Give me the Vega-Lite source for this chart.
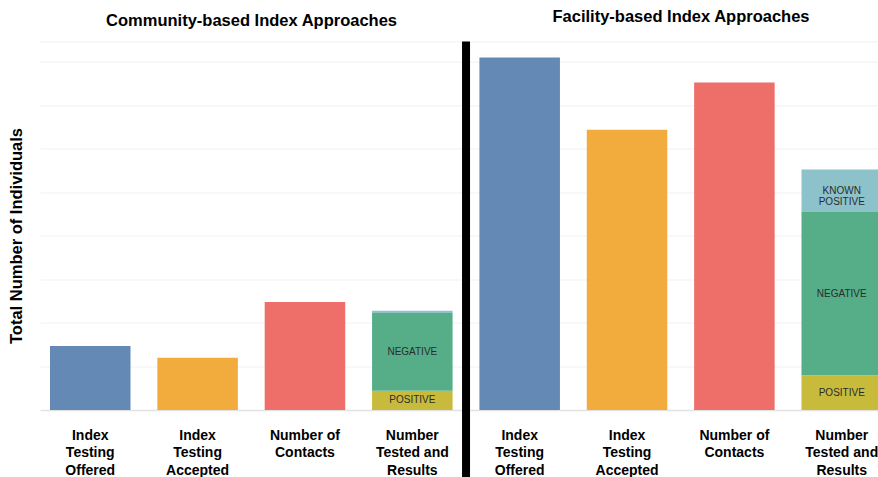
{
  "$schema": "https://vega.github.io/schema/vega-lite/v6.json",
  "autosize": {"type": "none"},
  "width": 838,
  "height": 368.5,
  "padding": {"left": 40, "top": 41.5, "right": 0, "bottom": 67},
  "background": "white",
  "config": {
    "view": {"stroke": null},
    "font": "Liberation Sans"
  },
  "data": {
    "values": [
      {"cat": "C|Index|Testing|Offered", "seg": "Offered", "ord": 1, "value": 147, "label": ""},
      {"cat": "C|Index|Testing|Accepted", "seg": "Accepted", "ord": 1, "value": 120, "label": ""},
      {"cat": "C|Number of|Contacts", "seg": "Contacts", "ord": 1, "value": 248, "label": ""},
      {"cat": "C|Number|Tested and|Results", "seg": "Positive", "ord": 1, "value": 44, "label": "POSITIVE"},
      {"cat": "C|Number|Tested and|Results", "seg": "Negative", "ord": 2, "value": 179, "label": "NEGATIVE"},
      {"cat": "C|Number|Tested and|Results", "seg": "Known Positive", "ord": 3, "value": 5, "label": ""},
      {"cat": "F|Index|Testing|Offered", "seg": "Offered", "ord": 1, "value": 810, "label": ""},
      {"cat": "F|Index|Testing|Accepted", "seg": "Accepted", "ord": 1, "value": 644, "label": ""},
      {"cat": "F|Number of|Contacts", "seg": "Contacts", "ord": 1, "value": 753, "label": ""},
      {"cat": "F|Number|Tested and|Results", "seg": "Positive", "ord": 1, "value": 80, "label": "POSITIVE"},
      {"cat": "F|Number|Tested and|Results", "seg": "Negative", "ord": 2, "value": 375, "label": "NEGATIVE"},
      {"cat": "F|Number|Tested and|Results", "seg": "Known Positive", "ord": 3, "value": 98, "label": "KNOWN|POSITIVE"}
    ]
  },
  "encoding": {
    "x": {
      "field": "cat",
      "type": "nominal",
      "sort": [
        "C|Index|Testing|Offered", "C|Index|Testing|Accepted", "C|Number of|Contacts", "C|Number|Tested and|Results",
        "F|Index|Testing|Offered", "F|Index|Testing|Accepted", "F|Number of|Contacts", "F|Number|Tested and|Results"
      ],
      "scale": {"range": [0, 852], "paddingInner": 0.25, "paddingOuter": 0.093},
      "axis": {
        "title": null,
        "labelExpr": "slice(split(datum.value, '|'), 1)",
        "labelAngle": 0,
        "labelFont": "Liberation Sans",
        "labelFontWeight": "bold",
        "labelFontSize": 14,
        "labelColor": "#000000",
        "labelLineHeight": 17.5,
        "labelBaseline": "top",
        "labelPadding": 18,
        "ticks": false,
        "domain": true,
        "domainColor": "#e2e2e2",
        "domainWidth": 1.5,
        "grid": false
      }
    }
  },
  "layer": [
    {
      "transform": [
        {"stack": "value", "groupby": ["cat"], "sort": [{"field": "ord"}], "as": ["v0", "v1"]}
      ],
      "mark": {"type": "bar"},
      "encoding": {
        "y": {
          "field": "v1",
          "type": "quantitative",
          "scale": {"domain": [0, 847], "nice": false, "zero": true},
          "axis": {
            "title": "Total Number of Individuals",
            "titleFont": "Liberation Sans",
            "titleFontSize": 16.5,
            "titleFontWeight": "bold",
            "titleColor": "#000000",
            "titlePadding": 16,
            "titleY": 194,
            "labels": false,
            "ticks": false,
            "domain": false,
            "grid": true,
            "gridColor": "#f1f1f1",
            "gridWidth": 1,
            "values": [100, 200, 300, 400, 500, 600, 700, 800, 847]
          }
        },
        "y2": {"field": "v0"},
        "color": {
          "field": "seg",
          "type": "nominal",
          "legend": null,
          "scale": {
            "domain": ["Offered", "Accepted", "Contacts", "Positive", "Negative", "Known Positive"],
            "range": ["#6389b4", "#f2ab3d", "#ee6e69", "#c8bb3c", "#55ae88", "#8ec2cb"]
          }
        }
      }
    },
    {
      "transform": [
        {"stack": "value", "groupby": ["cat"], "sort": [{"field": "ord"}], "as": ["v0", "v1"]},
        {"calculate": "(datum.v0 + datum.v1) / 2", "as": "mid"},
        {"filter": "datum.label != ''"}
      ],
      "mark": {"type": "text", "fontSize": 10, "fill": "#2b2b2b", "lineBreak": "|", "lineHeight": 11, "font": "Liberation Sans"},
      "encoding": {
        "y": {"field": "mid", "type": "quantitative"},
        "text": {"field": "label"}
      }
    },
    {
      "data": {"values": [{}]},
      "mark": {"type": "rule", "stroke": "#000000", "strokeWidth": 8},
      "encoding": {
        "x": {"datum": "C|Number|Tested and|Results", "bandPosition": 1.167},
        "y": {"datum": 847},
        "y2": {"datum": -154}
      }
    },
    {
      "data": {"values": [{}]},
      "mark": {"type": "text", "fontSize": 16.5, "fontWeight": "bold", "fill": "#000000", "font": "Liberation Sans", "baseline": "middle"},
      "encoding": {
        "x": {"datum": "C|Index|Testing|Accepted", "bandPosition": 1.17},
        "y": {"datum": 894},
        "text": {"value": "Community-based Index Approaches"}
      }
    },
    {
      "data": {"values": [{}]},
      "mark": {"type": "text", "fontSize": 16.5, "fontWeight": "bold", "fill": "#000000", "font": "Liberation Sans", "baseline": "middle"},
      "encoding": {
        "x": {"datum": "F|Index|Testing|Accepted", "bandPosition": 1.17},
        "y": {"datum": 903},
        "text": {"value": "Facility-based Index Approaches"}
      }
    }
  ]
}
